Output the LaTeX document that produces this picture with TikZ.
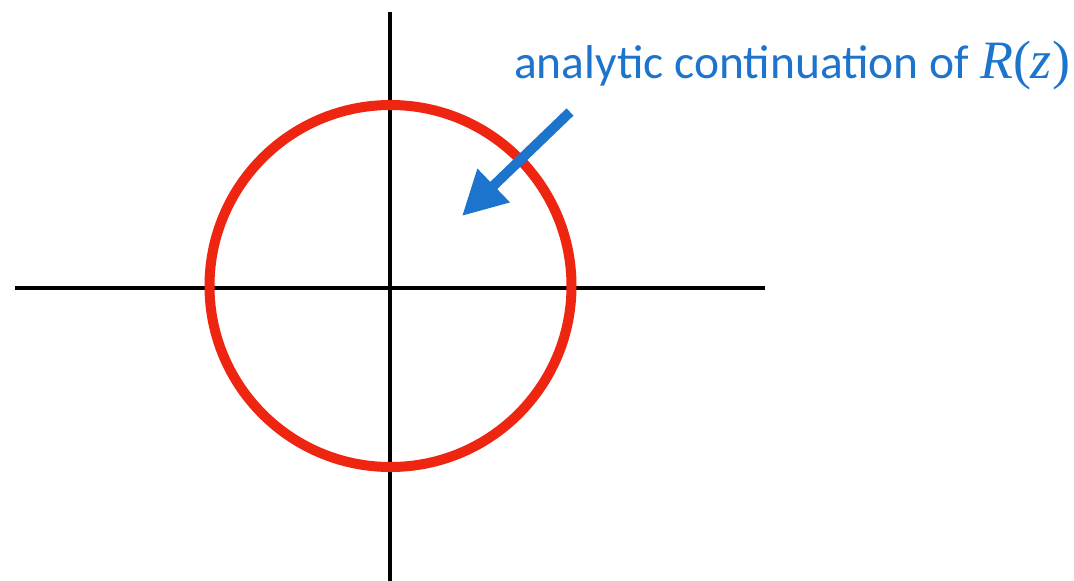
\documentclass[tikz,border=0pt]{standalone}
\usepackage{fontspec}
\setmainfont{Carlito}
\newfontfamily\serifit{Liberation Serif}
\usetikzlibrary{arrows.meta}

\definecolor{ringred}{HTML}{EE2511}
\definecolor{notblue}{HTML}{1D74CC}

\begin{document}
\begin{tikzpicture}[
  x=1pt, y=-1pt,
  axis/.style={line width=3.6pt, black},
  ring/.style={line width=10pt, draw=ringred},
  pointer/.style={line width=10pt, draw=notblue,
                  -{Triangle[length=44pt, width=44pt]}},
  lbl/.style={font=\fontsize{47.5}{54}\selectfont, text=notblue, inner sep=0pt, anchor=base west},
]
\useasboundingbox (0,0) rectangle (1074,581);

% axes
\coordinate (xl) at (15,288);
\coordinate (xr) at (765,288);
\coordinate (yt) at (390,12);
\coordinate (yb) at (390,581);
\draw[axis] (xl) -- (xr);
\draw[axis] (yt) -- (yb);

% unit circle
\coordinate (O) at (390.5,286);
\draw[ring] (O) circle[radius=181];

% label and pointer
\node[lbl] (note) at (514,78) {analytic continuation of {\serifit\fontsize{54}{56}\selectfont\itshape R\upshape(\itshape z\upshape)}};
\coordinate (from) at (570,112);
\coordinate (to) at (462,216);
\draw[pointer] (from) -- (to);

\end{tikzpicture}
\end{document}
